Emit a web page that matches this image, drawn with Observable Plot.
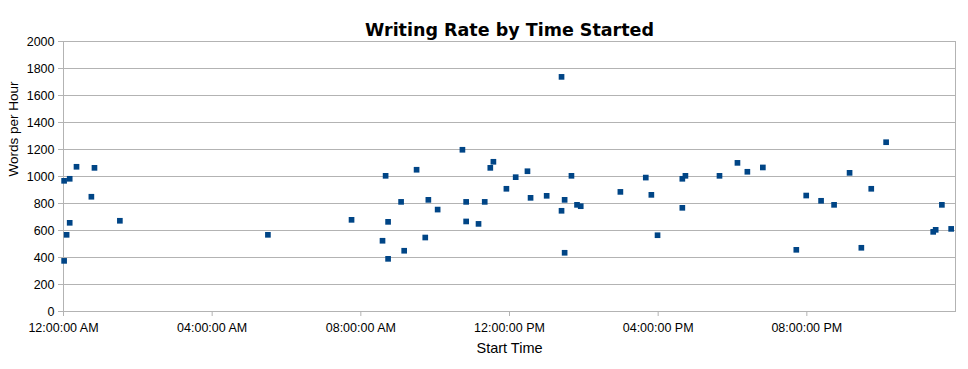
<!DOCTYPE html>
<html>
<head>
<meta charset="utf-8">
<script src="https://cdn.jsdelivr.net/npm/d3@7"></script>
<script src="https://cdn.jsdelivr.net/npm/@observablehq/plot@0.6"></script>
<style>
  html, body { margin: 0; padding: 0; background: #fff; }
  #chart { width: 968px; height: 369px; }
</style>
</head>
<body>
<div id="chart"></div>
<script>
const title = "Writing Rate by Time Started";
const xLabel = "Start Time";
const yLabel = "Words per Hour";

const startTimes = [
  "0:01","0:01","0:05","0:10","0:10","0:21","0:45","0:50","1:31","5:30",
  "7:45","8:35","8:40","8:44","8:44","9:05","9:10","9:30","9:44","9:49",
  "10:04","10:44","10:50","10:50","11:10","11:20","11:29","11:34","11:55","12:10",
  "12:29","12:34","13:00","13:24","13:24","13:29","13:29","13:40","13:49","13:55",
  "14:59","15:40","15:49","15:59","16:39","16:39","16:44","17:39","18:08","18:24",
  "18:49","19:43","19:59","20:23","20:44","21:09","21:28","21:44","22:08","23:24",
  "23:28","23:38","23:53"
];
const wordsPerHour = [
  968,375,568,657,983,1072,850,1064,672,568,
  679,524,1005,664,390,812,450,1050,548,827,
  755,1198,812,667,649,812,1064,1109,909,995,
  1039,842,857,1738,746,827,435,1005,790,780,
  886,992,864,565,768,983,1005,1005,1101,1035,
  1067,457,859,820,790,1027,472,909,1254,590,
  605,790,612
];
const xTickHours = [0, 4, 8, 12, 16, 20];
const xTickLabels = ["12:00:00 AM","04:00:00 AM","08:00:00 AM","12:00:00 PM","04:00:00 PM","08:00:00 PM"];
const yTicks = [0,200,400,600,800,1000,1200,1400,1600,1800,2000];

const toHours = s => { const [h, m] = s.split(":").map(Number); return h + m / 60; };
const data = startTimes.map((t, i) => ({hour: toHours(t), rate: wordsPerHour[i]}));

const grey = "#b3b3b3";
const font = "'Liberation Sans', Arial, sans-serif";

const chart = Plot.plot({
  width: 968,
  height: 369,
  marginLeft: 63,
  marginRight: 13,
  marginTop: 41,
  marginBottom: 58,
  style: {fontFamily: font, fontSize: "12.5px", color: "#000", background: "#fff"},
  x: {domain: [0, 24], label: null},
  y: {domain: [0, 2000], label: null},
  marks: [
    Plot.ruleY(yTicks, {stroke: grey, strokeWidth: 1}),
    Plot.frame({stroke: grey}),
    Plot.axisX(xTickHours, {
      tickSize: 5, tickPadding: 7, stroke: grey,
      tickFormat: h => xTickLabels[xTickHours.indexOf(h)],
      fill: "#000", label: null
    }),
    Plot.axisY(yTicks, {
      tickSize: 5, tickPadding: 4, stroke: grey,
      tickFormat: d3.format("d"),
      fill: "#000", label: null
    }),
    Plot.dot(data, {x: "hour", y: "rate", symbol: "square", r: 3.2, fill: "#004586", stroke: "none"}),
    Plot.text([title], {frameAnchor: "top", dy: -17.5, fontSize: 17.5, fontWeight: "bold",
      fontFamily: "'DejaVu Sans', sans-serif", fill: "#000"}),
    Plot.text([xLabel], {frameAnchor: "bottom", dy: 41.5, fontSize: 14.5, fill: "#000"}),
    Plot.text([yLabel], {frameAnchor: "left", dx: -50, rotate: -90, fontSize: 13.5, fill: "#000"})
  ]
});
document.getElementById("chart").appendChild(chart);
</script>
</body>
</html>
